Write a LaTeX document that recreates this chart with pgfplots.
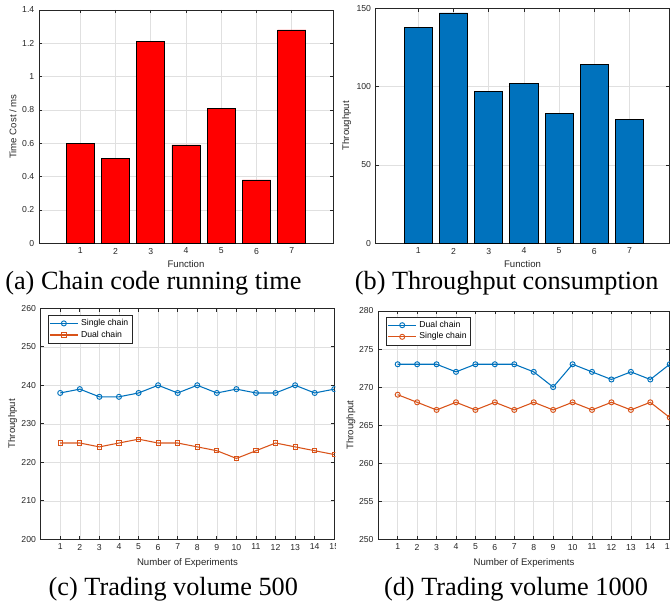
\documentclass[border=0pt]{standalone}
\usepackage{fontspec}
\setmainfont{Liberation Sans}
\newfontfamily\capfont{Liberation Serif}
\usepackage{pgfplots}
\pgfplotsset{compat=1.18}
\definecolor{mblue}{RGB}{0,114,189}
\definecolor{morange}{RGB}{217,83,25}
\definecolor{axgray}{RGB}{38,38,38}
\pgfplotsset{
  mstyle/.style={
    scale only axis, anchor=south west,
    axis line style={axgray, line width=0.5pt},
    tick align=inside, major tick length=2.5pt,
    tick style={axgray, line width=0.5pt},
    grid=major, major grid style={black!12, line width=0.4pt},
    ticklabel style={font=\fontsize{6.5}{7}\selectfont, text=axgray},
    /pgf/number format/assume math mode=true,
    label style={font=\fontsize{7.2}{8}\selectfont, text=axgray, inner sep=0.5pt},
    legend style={at={(0,1)}, anchor=north west, draw=axgray, line width=0.5pt,
      font=\fontsize{6.5}{7}\selectfont, inner sep=1pt, row sep=-1.5pt, cells={anchor=west}},
    legend image code/.code={\draw[mark repeat=2,mark phase=2,##1] plot coordinates {(0pt,0pt) (10.5pt,0pt) (21pt,0pt)};},
  },
  lstyle/.style={line width=0.8pt, mark options={solid, line width=0.7pt}},
}
\begin{document}
\begin{tikzpicture}
\useasboundingbox (0,0) rectangle (502.5pt,452.25pt);
\clip (0,0) rectangle (502.5pt,452.25pt);
% (a)
\begin{axis}[mstyle, at={(29.25pt,269.8pt)}, width=220.5pt, height=175pt,
  xmin=-0.17, xmax=8.17, ymin=0, ymax=1.4,
  xtick={1,2,3,4,5,6,7}, ytick={0,0.2,0.4,0.6,0.8,1,1.2,1.4},
  xlabel={Function}, ylabel={Time Cost / ms},
  xlabel style={at={(axis description cs:0.5,-0.090)}, anchor=center},
  ylabel style={at={(axis description cs:-0.0884,0.5)}, anchor=center}]
\addplot[ybar, bar width=0.8, bar shift=0pt, fill=red, draw=black, line width=0.6pt]
  coordinates {(1,0.60) (2,0.51) (3,1.21) (4,0.59) (5,0.81) (6,0.38) (7,1.28)};
\end{axis}
% (b)
\begin{axis}[mstyle, at={(281.8pt,269.8pt)}, width=220.2pt, height=176.25pt,
  xmin=-0.21, xmax=8.13, ymin=0, ymax=150,
  xtick={1,2,3,4,5,6,7}, ytick={0,50,100,150},
  xlabel={Function}, ylabel={Throughput},
  xlabel style={at={(axis description cs:0.5,-0.0895)}, anchor=center},
  ylabel style={at={(axis description cs:-0.0988,0.5)}, anchor=center}]
\addplot[ybar, bar width=0.8, bar shift=0pt, fill=mblue, draw=black, line width=0.6pt]
  coordinates {(1,138) (2,147) (3,97) (4,102) (5,83) (6,114) (7,79)};
\end{axis}
% (c)
\begin{scope}
\clip (0,0) rectangle (251.5pt,226pt);
\begin{axis}[mstyle, at={(30.5pt,47.8pt)}, width=220.2pt, height=173.25pt,
  xmin=0, xmax=15, ymin=200, ymax=260,
  xtick={1,...,15}, ytick={200,210,...,260},
  xlabel={Number of Experiments}, ylabel={Throughput},
  xlabel style={at={(axis description cs:0.5,-0.1026)}, anchor=center},
  ylabel style={at={(axis description cs:-0.0954,0.5)}, anchor=center},
  legend style={xshift=5.25pt, yshift=-5pt}]
\addplot[mblue, lstyle, mark=o, mark size=1.9pt]
  coordinates {(1,238) (2,239) (3,237) (4,237) (5,238) (6,240) (7,238) (8,240) (9,238) (10,239) (11,238) (12,238) (13,240) (14,238) (15,239)};
\addlegendentry{Single chain}
\addplot[morange, lstyle, mark=square, mark size=1.6pt]
  coordinates {(1,225) (2,225) (3,224) (4,225) (5,226) (6,225) (7,225) (8,224) (9,223) (10,221) (11,223) (12,225) (13,224) (14,223) (15,222)};
\addlegendentry{Dual chain}
\end{axis}
\end{scope}
% (d)
\begin{axis}[mstyle, at={(283.7pt,47.8pt)}, width=218.6pt, height=171.2pt,
  xmin=0, xmax=15, ymin=250, ymax=280,
  xtick={1,...,15}, ytick={250,255,...,280},
  xlabel={Number of Experiments}, ylabel={Throughput},
  xlabel style={at={(axis description cs:0.5,-0.1038)}, anchor=center},
  ylabel style={at={(axis description cs:-0.0937,0.5)}, anchor=center},
  legend style={xshift=5.8pt, yshift=-4.3pt}]
\addplot[mblue, lstyle, mark=o, mark size=1.9pt]
  coordinates {(1,273) (2,273) (3,273) (4,272) (5,273) (6,273) (7,273) (8,272) (9,270) (10,273) (11,272) (12,271) (13,272) (14,271) (15,273)};
\addlegendentry{Dual chain}
\addplot[morange, lstyle, mark=o, mark size=1.9pt]
  coordinates {(1,269) (2,268) (3,267) (4,268) (5,267) (6,268) (7,267) (8,268) (9,267) (10,268) (11,267) (12,268) (13,267) (14,268) (15,266)};
\addlegendentry{Single chain}
\end{axis}
% captions
\node[font=\capfont\fontsize{19.7}{22}\selectfont, anchor=base, inner sep=0pt] at (115.05pt,234.75pt) {(a) Chain code running time};
\node[font=\capfont\fontsize{19.7}{22}\selectfont, anchor=base, inner sep=0pt] at (380pt,234.75pt) {(b) Throughput consumption};
\node[font=\capfont\fontsize{19.7}{22}\selectfont, anchor=base, inner sep=0pt] at (130pt,6pt) {(c) Trading volume 500};
\node[font=\capfont\fontsize{19.7}{22}\selectfont, anchor=base, inner sep=0pt] at (387pt,6pt) {(d) Trading volume 1000};
\end{tikzpicture}
\end{document}
